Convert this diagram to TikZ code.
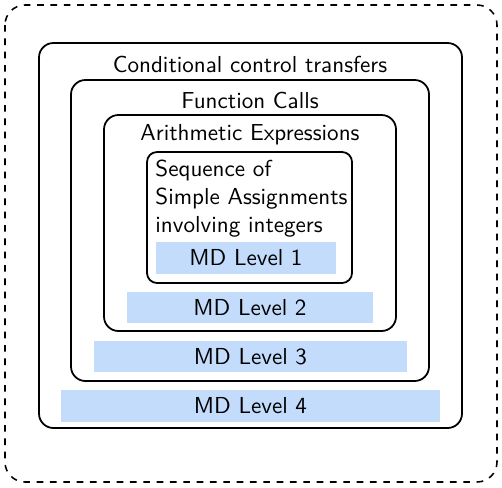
\documentclass[tikz,border=0pt]{standalone}
\usepackage{tikz}
\usetikzlibrary{positioning}
\definecolor{mdblue}{RGB}{196,220,252}

\begin{document}
\begin{tikzpicture}[x=0.45pt,y=-0.45pt,font=\sffamily\fontsize{10.4}{12.6}\selectfont,
        box/.style={draw,line width=0.8pt,rounded corners=6.5pt},
        level/.style={fill=mdblue,inner sep=0pt,minimum height=14pt},
        title/.style={inner sep=0pt}]
  \useasboundingbox (0,0) rectangle (502,487);
  \draw[dashed,line width=0.7pt,rounded corners=9pt] (5,5) rectangle (497,482);

  \draw[box] (39,43) rectangle (462,428);
  \draw[box] (71,80) rectangle (429,381);
  \draw[box] (104,115) rectangle (396,331);
  \draw[box,rounded corners=4.5pt] (147,152) rectangle (352,283);

  \node[title] (cond) at (250,64) {Conditional control transfers};
  \node[title] (func) at (250,100) {Function Calls};
  \node[title] (arith) at (250,135) {Arithmetic Expressions};
  \node[title,anchor=west,align=left] (seq) at (155,199)
        {Sequence of\\Simple Assignments\\involving integers};

  \node[level,minimum width=81pt] (md1) at (246,258) {MD Level 1};
  \node[level,minimum width=110.7pt] (md2) at (250,307.5) {MD Level 2};
  \node[level,minimum width=140.9pt] (md3) at (250.5,356.5) {MD Level 3};
  \node[level,minimum width=170.6pt] (md4) at (250.5,406) {MD Level 4};
\end{tikzpicture}
\end{document}
